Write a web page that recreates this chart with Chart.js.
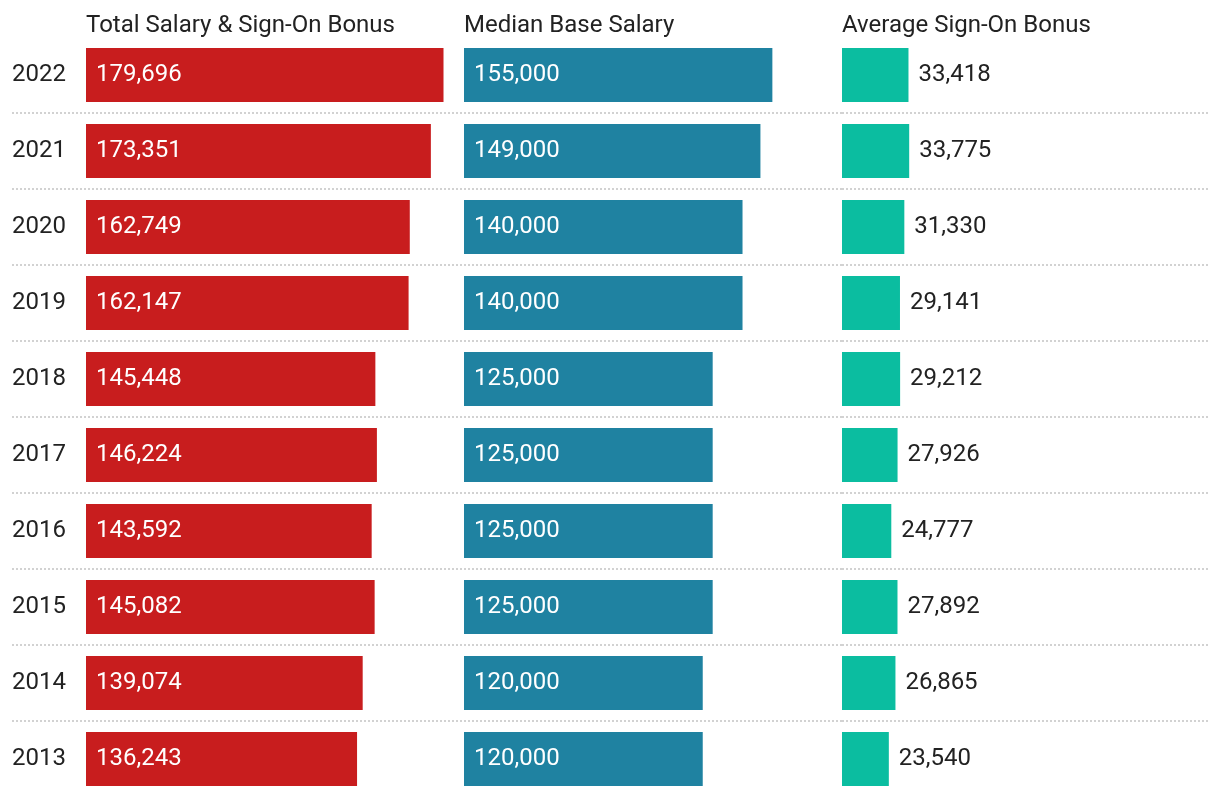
<!DOCTYPE html>
<html>
<head>
<meta charset="utf-8">
<script src="https://cdn.jsdelivr.net/npm/chart.js@4.4.0/dist/chart.umd.min.js"></script>
<style>
  html, body { margin: 0; padding: 0; background: #fff; overflow: hidden; }
  #wrap { position: relative; width: 1220px; height: 800px; }
  .col { position: absolute; top: 0; height: 800px; }
</style>
</head>
<body>
<div id="wrap">
  <div class="col" style="left:0;width:464px"><canvas id="totalChart"></canvas></div>
  <div class="col" style="left:464px;width:378px"><canvas id="baseChart"></canvas></div>
  <div class="col" style="left:842px;width:378px"><canvas id="bonusChart"></canvas></div>
</div>
<script>
const years = ["2022", "2021", "2020", "2019", "2018", "2017", "2016", "2015", "2014", "2013"];
const totalComp = [179696, 173351, 162749, 162147, 145448, 146224, 143592, 145082, 139074, 136243];
const baseSalary = [155000, 149000, 140000, 140000, 125000, 125000, 125000, 125000, 120000, 120000];
const signOnBonus = [33418, 33775, 31330, 29141, 29212, 27926, 24777, 27892, 26865, 23540];
const headings = ["Total Salary & Sign-On Bonus", "Median Base Salary", "Average Sign-On Bonus"];
const xMax = 190000;

const FONT = "Roboto";
const FONT_SIZE = 24;
const TEXT = "#222222";

// dotted separators between the year rows
const rowLines = {
  id: "rowLines",
  beforeDatasetsDraw(chart, args, opts) {
    const y = chart.scales.y;
    const ctx = chart.ctx;
    ctx.save();
    ctx.strokeStyle = "#d2d2d2";
    ctx.lineWidth = 2;
    ctx.setLineDash([2, 2]);
    for (let i = 1; i < years.length; i++) {
      const py = Math.round((y.getPixelForValue(i - 1) + y.getPixelForValue(i)) / 2);
      ctx.beginPath();
      ctx.moveTo(opts.left, py);
      ctx.lineTo(chart.width - opts.right, py);
      ctx.stroke();
    }
    ctx.restore();
  }
};

const heading = {
  id: "heading",
  afterDraw(chart, args, opts) {
    const ctx = chart.ctx;
    ctx.save();
    ctx.font = `${FONT_SIZE}px ${FONT}`;
    ctx.fillStyle = TEXT;
    ctx.textAlign = "left";
    ctx.textBaseline = "alphabetic";
    ctx.fillText(opts.text, chart.chartArea.left, 32);
    ctx.restore();
  }
};

const valueLabels = {
  id: "valueLabels",
  afterDatasetsDraw(chart, args, opts) {
    const ctx = chart.ctx;
    const ds = chart.data.datasets[0];
    ctx.save();
    ctx.font = `${FONT_SIZE}px ${FONT}`;
    ctx.textAlign = "left";
    ctx.textBaseline = "middle";
    chart.getDatasetMeta(0).data.forEach((bar, i) => {
      const txt = ds.data[i].toLocaleString("en-US");
      if (opts.inside) {
        ctx.fillStyle = "#ffffff";
        ctx.fillText(txt, bar.base + 10, bar.y);
      } else {
        ctx.fillStyle = TEXT;
        ctx.fillText(txt, bar.x + 10, bar.y);
      }
    });
    ctx.restore();
  }
};

function makeChart(id, values, color, title, inside, showYears, lineLeft, lineRight) {
  return new Chart(document.getElementById(id), {
    type: "bar",
    data: {
      labels: years,
      datasets: [{
        data: values,
        backgroundColor: color,
        barPercentage: 0.71,
        categoryPercentage: 1,
      }]
    },
    options: {
      indexAxis: "y",
      responsive: true,
      maintainAspectRatio: false,
      animation: false,
      layout: { padding: { top: 37, bottom: 3, left: showYears ? 12 : 0, right: 0 } },
      scales: {
        x: { display: false, min: 0, max: xMax },
        y: {
          display: showYears,
          grid: { display: false },
          border: { display: false },
          ticks: { crossAlign: "far", color: TEXT, padding: 0, font: { family: FONT, size: FONT_SIZE } },
          afterFit: showYears ? (s) => {
            s.width = 74;
            s.paddingTop = 0;
            s.paddingBottom = 0;
          } : undefined,
        }
      },
      plugins: {
        legend: { display: false },
        tooltip: { enabled: false },
        heading: { text: title },
        rowLines: { left: lineLeft, right: lineRight },
        valueLabels: { inside: inside },
      }
    },
    plugins: [rowLines, heading, valueLabels]
  });
}

function init() {
  makeChart("totalChart", totalComp, "#c81d1e", headings[0], true, true, 12, 0);
  makeChart("baseChart", baseSalary, "#1f82a1", headings[1], true, false, 0, 0);
  makeChart("bonusChart", signOnBonus, "#0bbda0", headings[2], false, false, 0, 12);
}

document.fonts.load(`${FONT_SIZE}px ${FONT}`).then(init, init);
</script>
</body>
</html>
